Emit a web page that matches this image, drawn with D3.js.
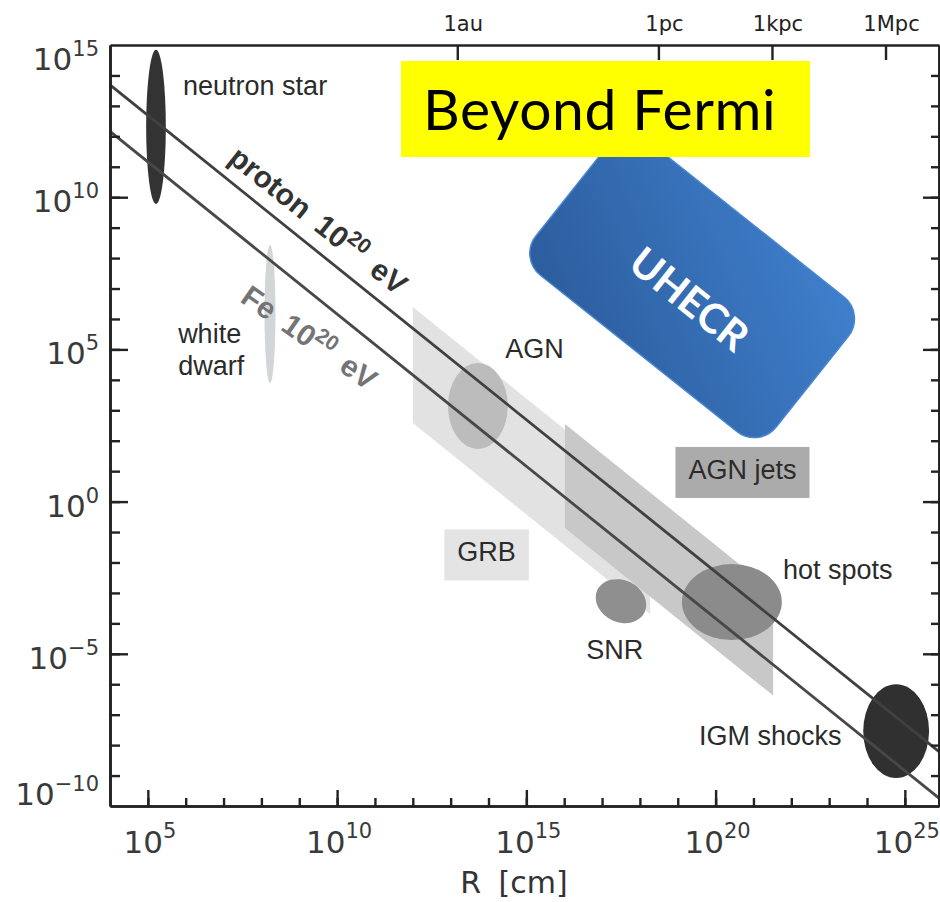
<!DOCTYPE html>
<html><head><meta charset="utf-8">
<script src="https://cdnjs.cloudflare.com/ajax/libs/d3/7.8.5/d3.min.js"></script>
<style>body{margin:0;background:#fff} svg{display:block}</style>
</head><body>
<script>
// ---------- DATA ----------
const xMajorExp = [5, 10, 15, 20, 25];
const xMinorExp = d3.range(5, 26);
const yMajorExp = [-10, -5, 0, 5, 10, 15];
const yMinorExp = d3.range(-9, 15);
const topUnits = ["1au", "1pc", "1kpc", "1Mpc"];
const topUnitCm = [1.496e13, 3.086e18, 3.086e21, 3.086e24];

// lines of constant B*R (log10 of B[G]*R[cm])
const lineNames = ["proton", "Fe"];
const lineLogBR = [17.69, 16.16];

// bands (parallelograms): log R range and log(B*R) range
const bandNames = ["GRB", "AGN jets"];
const bandLogR0 = [12.0, 16.02];
const bandLogR1 = [18.27, 21.52];
const bandLogBRlow = [14.58, 15.15];
const bandLogBRhigh = [18.39, 18.57];

// ellipses: centre (log R, log B) and half-widths in decades
const ellipseNames = ["neutron star", "white dwarf", "AGN", "SNR", "hot spots", "IGM shocks"];
const ellipseLogR = [5.215, 8.227, 13.72, 17.50, 20.43, 24.77];
const ellipseLogB = [12.31, 6.16, 3.14, -3.27, -3.30, -7.54];
const ellipseHalfR = [0.26, 0.145, 0.79, 0.69, 1.32, 0.87];
const ellipseHalfB = [2.53, 2.27, 1.41, 0.69, 1.25, 1.54];

// text labels anchored in data space (log R, log B)
const labelTexts = ["neutron star", "AGN", "hot spots", "SNR", "IGM shocks"];
const labelLogR = [5.93, 14.44, 21.78, 16.58, 19.56];
const labelLogB = [13.36, 4.72, -2.54, -5.17, -8.0];
const wdLabelLines = ["white", "dwarf"];
const wdLabelLogR = 5.80, wdLabelLogB = 5.21;
const boxLabelLogR = [13.95, 20.71];   // centres of GRB / AGN jets label boxes
const boxLabelLogB = [-1.67, 1.04];
const lineLabelLogR = [7.09, 7.41];
const lineLabelLogB = [11.19, 6.59];

// ---------- STYLE ----------
const bandFill = ["#e2e2e2", "#c8c8c8"];
const boxFill = ["#e4e4e4", "#ababab"];
const ellipseFill = ["#333333", "#d3d6d6", "#bcbcbc", "#8f8f8f", "#8b8b8b", "#303030"];
const ellipseRot = [0, 0, 0, 25, 0, 0];
const lineColor = ["#404040", "#484848"];
const lineLabelColor = ["#333", "#747474"];
const lineLabelAngle = [38.5, 35];

const W = 940, H = 902;
const M = {left: 110, right: 939, top: 45, bottom: 806};
const svg = d3.select("body").append("svg").attr("width", W).attr("height", H)
  .style("font-family", "'Liberation Sans', Arial, sans-serif");

const x = d3.scaleLog().domain([1e4, Math.pow(10, 4 + (M.right - M.left) / 37.85)]).range([M.left, M.right]);
const y = d3.scaleLog().domain([1e-10, 1e15]).range([M.bottom, M.top]);
const X = lr => x(Math.pow(10, lr));
const Y = lb => y(Math.pow(10, lb));

svg.append("clipPath").attr("id", "plot").append("rect")
  .attr("x", M.left).attr("y", M.top).attr("width", M.right - M.left).attr("height", M.bottom - M.top);
const plot = svg.append("g").attr("clip-path", "url(#plot)");

// bands
bandNames.forEach((n, i) => {
  const r0 = bandLogR0[i], r1 = bandLogR1[i], lo = bandLogBRlow[i], hi = bandLogBRhigh[i];
  const pts = [[r0, hi - r0], [r1, hi - r1], [r1, lo - r1], [r0, lo - r0]].map(p => [X(p[0]), Y(p[1])]);
  plot.append("polygon").attr("points", pts.map(p => p.join(",")).join(" ")).attr("fill", bandFill[i]);
});

// ellipses
ellipseNames.forEach((n, i) => {
  const cx = X(ellipseLogR[i]), cy = Y(ellipseLogB[i]);
  const rx = X(ellipseLogR[i] + ellipseHalfR[i]) - cx;
  const ry = cy - Y(ellipseLogB[i] + ellipseHalfB[i]);
  plot.append("ellipse").attr("cx", cx).attr("cy", cy).attr("rx", rx).attr("ry", ry)
    .attr("transform", `rotate(${ellipseRot[i]},${cx},${cy})`)
    .attr("fill", ellipseFill[i]);
});

// lines
const dom = x.domain();
lineNames.forEach((n, i) => {
  const pts = dom.map(R => [R, Math.pow(10, lineLogBR[i]) / R]);
  plot.append("path").attr("d", d3.line().x(d => x(d[0])).y(d => y(d[1]))(pts))
    .attr("stroke", lineColor[i]).attr("stroke-width", 2.8).attr("fill", "none");
});

// line labels
lineNames.forEach((n, i) => {
  const t = svg.append("text")
    .attr("transform", `translate(${X(lineLabelLogR[i])},${Y(lineLabelLogB[i])}) rotate(${lineLabelAngle[i]})`)
    .attr("font-size", 30).attr("font-weight", "bold").attr("fill", lineLabelColor[i])
    .style("word-spacing", "6px");
  t.append("tspan").text(n + " 10");
  t.append("tspan").attr("font-size", 21).attr("dy", -12).text("20");
  t.append("tspan").attr("dy", 12).text(" eV");
});

// object labels
labelTexts.forEach((s, i) => {
  svg.append("text").attr("x", X(labelLogR[i])).attr("y", Y(labelLogB[i]))
    .attr("font-size", 27).attr("fill", "#2b2b2b").text(s);
});
const wd = svg.append("text").attr("x", X(wdLabelLogR)).attr("y", Y(wdLabelLogB))
  .attr("font-size", 27).attr("fill", "#2b2b2b");
wdLabelLines.forEach((s, k) => wd.append("tspan").attr("x", X(wdLabelLogR)).attr("dy", k ? 32 : 0).text(s));

// boxed labels
bandNames.forEach((s, i) => {
  const g = svg.append("g");
  const rect = g.append("rect").attr("fill", boxFill[i]);
  const t = g.append("text").attr("x", X(boxLabelLogR[i])).attr("y", Y(boxLabelLogB[i]))
    .attr("text-anchor", "middle").attr("dominant-baseline", "central")
    .attr("font-size", 27).attr("fill", "#2b2b2b").text(s);
  const bb = t.node().getBBox();
  const padX = 13, padTop = 12, padBot = 13;
  rect.attr("x", bb.x - padX).attr("y", bb.y - padTop + 4)
    .attr("width", bb.width + 2 * padX).attr("height", bb.height + padTop + padBot - 4);
});

// ---------- AXES ----------
const axisStyle = g => {
  g.selectAll("path.domain").attr("stroke", "#222").attr("stroke-width", 2.6);
  g.selectAll(".tick line").attr("stroke", "#222").attr("stroke-width", 2.4);
  g.selectAll(".tick text").remove();
};
const pw = v => Math.pow(10, v);
// bottom
svg.append("g").attr("transform", `translate(0,${M.bottom})`)
  .call(d3.axisTop(x).tickValues(xMinorExp.map(pw)).tickSize(8).tickSizeOuter(0)).call(axisStyle);
svg.append("g").attr("transform", `translate(0,${M.bottom})`)
  .call(d3.axisTop(x).tickValues(xMajorExp.map(pw)).tickSize(16).tickSizeOuter(0)).call(axisStyle);
// top
svg.append("g").attr("transform", `translate(0,${M.top})`)
  .call(d3.axisBottom(x).tickValues(topUnitCm).tickSize(15).tickSizeOuter(0)).call(axisStyle);
// left
svg.append("g").attr("transform", `translate(${M.left},0)`)
  .call(d3.axisRight(y).tickValues(yMinorExp.map(pw)).tickSize(10).tickSizeOuter(0)).call(axisStyle);
svg.append("g").attr("transform", `translate(${M.left},0)`)
  .call(d3.axisRight(y).tickValues(yMajorExp.slice(1, -1).map(pw)).tickSize(18).tickSizeOuter(0)).call(axisStyle);
// right
svg.append("g").attr("transform", `translate(${M.right},0)`)
  .call(d3.axisLeft(y).tickValues(yMinorExp.map(pw)).tickSize(8).tickSizeOuter(0)).call(axisStyle);
svg.append("g").attr("transform", `translate(${M.right},0)`)
  .call(d3.axisLeft(y).tickValues(yMajorExp.slice(1, -1).map(pw)).tickSize(16).tickSizeOuter(0)).call(axisStyle);

const fmtExp = e => (e < 0 ? "\u2212" + (-e) : "" + e);
const tickFont = "'DejaVu Sans', sans-serif";
// y labels
yMajorExp.forEach(e => {
  const yy = Math.min(Math.max(y(pw(e)) + 15, 70), 805);
  const t = svg.append("text").attr("x", 99).attr("y", yy).attr("text-anchor", "end")
    .style("font-family", tickFont).attr("fill", "#3a3a3a").attr("font-size", 31);
  t.append("tspan").text("10");
  t.append("tspan").attr("font-size", 21).attr("dy", -14).text(fmtExp(e));
});
// x labels
xMajorExp.forEach(e => {
  const t = svg.append("text").attr("x", x(pw(e)) + 2).attr("y", 853).attr("text-anchor", "middle")
    .style("font-family", tickFont).attr("fill", "#3a3a3a").attr("font-size", 31);
  t.append("tspan").text("10");
  t.append("tspan").attr("font-size", 21).attr("dy", -15).text(fmtExp(e));
});
// top unit labels
topUnits.forEach((s, i) => {
  svg.append("text").attr("x", x(topUnitCm[i]) + 6).attr("y", 31).attr("text-anchor", "middle")
    .style("font-family", tickFont).attr("fill", "#222").attr("font-size", 21).text(s);
});
// x axis title
svg.append("text").attr("x", 514).attr("y", 893).attr("text-anchor", "middle")
  .style("font-family", tickFont).attr("fill", "#333").attr("font-size", 30)
  .style("word-spacing", "8px").text("R [cm]");

// ---------- OVERLAYS ----------
const defs = svg.append("defs");
const grad = defs.append("linearGradient").attr("id", "blue").attr("x1", "0").attr("y1", "1").attr("x2", "1").attr("y2", "0");
grad.append("stop").attr("offset", "0%").attr("stop-color", "#2c5c9c");
grad.append("stop").attr("offset", "100%").attr("stop-color", "#3f80cd");
const ub = svg.append("g").attr("transform", `translate(${X(19.38)},${Y(7.08)}) rotate(38.5)`);
ub.append("rect").attr("x", -153.5).attr("y", -86).attr("width", 307).attr("height", 172)
  .attr("rx", 28).attr("fill", "url(#blue)").attr("stroke", "#4a86d2").attr("stroke-width", 1.5);
ub.append("text").attr("x", 6).attr("y", 11).attr("text-anchor", "middle").attr("dominant-baseline", "central")
  .style("font-family", "Lato, 'Open Sans', sans-serif").attr("font-weight", "bold")
  .attr("font-size", 41).attr("fill", "#fff").text("UHECR");

svg.append("rect").attr("x", 401).attr("y", 61).attr("width", 409).attr("height", 96).attr("fill", "#ffff00");
svg.append("text").attr("x", 423).attr("y", 130)
  .style("font-family", "Lato, 'Open Sans', sans-serif").attr("font-size", 57).attr("fill", "#000")
  .style("letter-spacing", "0.6px").text("Beyond Fermi");
</script>
</body></html>
